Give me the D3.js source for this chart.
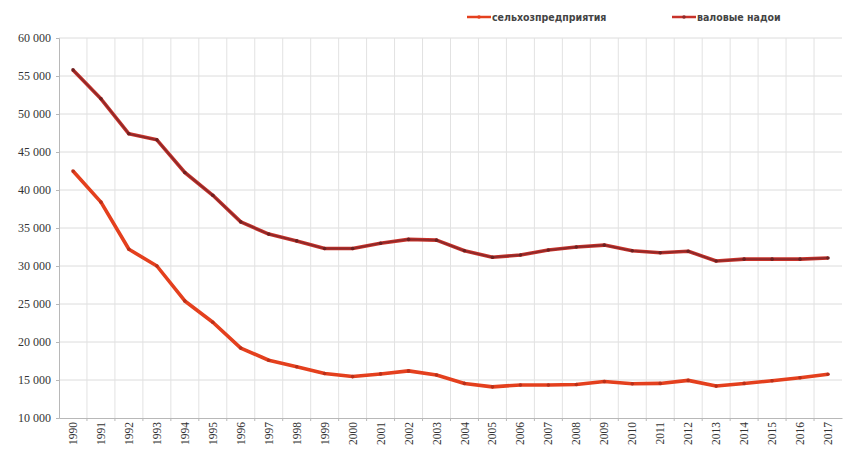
<!DOCTYPE html>
<html>
<head>
<meta charset="utf-8">
<script src="https://cdn.jsdelivr.net/npm/d3@7"></script>
<style>
  body { margin: 0; background: #fff; }
</style>
</head>
<body>
<script>
const width = 844;
const height = 453;

// years on the category axis
const years = d3.range(1990, 2018).map(String);

// валовые надои (upper line)
const nadoi = [55800, 52000, 47400, 46600, 42300, 39300, 35800, 34200, 33300, 32300,
    32300, 33000, 33500, 33400, 32000, 31150, 31450, 32100, 32500, 32750,
    32000, 31750, 31950, 30650, 30900, 30900, 30900, 31050];

// сельхозпредприятия (lower line)
const selhoz = [42500, 38400, 32200, 30000, 25400, 22600, 19200, 17600, 16750, 15850,
    15450, 15800, 16200, 15650, 14550, 14100, 14350, 14350, 14400, 14800,
    14500, 14550, 14950, 14200, 14550, 14900, 15300, 15750];

const yTicks = [10000, 15000, 20000, 25000, 30000, 35000, 40000, 45000, 50000, 55000, 60000];

const seriesList = [
    { name: "сельхозпредприятия", values: selhoz, color: "#e4401e", core: "#e4401e", dot: "#b8301a" },
    { name: "валовые надои", values: nadoi, color: "#c8322a", core: "#8e2a2a", dot: "#6e2020" }
];

const serif = "'Liberation Serif', 'DejaVu Serif', serif";
const margin = { top: 38, right: 2, bottom: 35, left: 59 };

const svg = d3.select("body").append("svg")
    .attr("width", width)
    .attr("height", height);

const x = d3.scaleBand()
    .domain(years)
    .range([margin.left, width - margin.right]);

const y = d3.scaleLinear()
    .domain([10000, 60000])
    .range([height - margin.bottom, margin.top]);

const fmt = v => d3.format(",")(v).replace(/,/g, " ");

// horizontal grid
svg.append("g")
    .attr("stroke", "#dcdcdc")
    .selectAll("line")
    .data(yTicks.slice(1))
    .join("line")
    .attr("x1", margin.left)
    .attr("x2", width - margin.right)
    .attr("y1", d => y(d))
    .attr("y2", d => y(d));

// vertical grid at category boundaries
svg.append("g")
    .attr("stroke", "#e2e2e2")
    .selectAll("line")
    .data(years.slice(1))
    .join("line")
    .attr("x1", d => x(d))
    .attr("x2", d => x(d))
    .attr("y1", y(60000))
    .attr("y2", y(10000));

// y axis
const yAxis = svg.append("g")
    .attr("transform", `translate(${margin.left},0)`)
    .call(d3.axisLeft(y).tickValues(yTicks).tickFormat(fmt).tickSize(3));
yAxis.select(".domain").attr("stroke", "#b8b8b8");
yAxis.selectAll(".tick line").attr("stroke", "#b8b8b8");
yAxis.selectAll("text")
    .style("font-family", serif)
    .style("font-size", "12px")
    .attr("fill", "#333")
    .attr("x", -8);

// x axis
const xAxis = svg.append("g")
    .attr("transform", `translate(0,${y(10000)})`)
    .call(d3.axisBottom(x).tickSize(0));
xAxis.select(".domain").attr("stroke", "#b8b8b8");
xAxis.selectAll("text")
    .style("font-family", serif)
    .style("font-size", "11.5px")
    .attr("fill", "#333")
    .attr("transform", "rotate(-90)")
    .attr("text-anchor", "end")
    .attr("dy", "0.35em")
    .attr("x", -4)
    .attr("y", 0);
svg.append("g")
    .attr("stroke", "#b8b8b8")
    .selectAll("line")
    .data(years.slice(1))
    .join("line")
    .attr("x1", d => x(d))
    .attr("x2", d => x(d))
    .attr("y1", y(10000))
    .attr("y2", y(10000) + 3);

const line = d3.line()
    .x((d, i) => x(years[i]) + x.bandwidth() / 2)
    .y(d => y(d));

seriesList.forEach(s => {
    const g = svg.append("g");
    g.append("path")
        .datum(s.values)
        .attr("fill", "none")
        .attr("stroke", s.color)
        .attr("stroke-width", 3.6)
        .attr("stroke-linejoin", "round")
        .attr("d", line);
    g.append("path")
        .datum(s.values)
        .attr("fill", "none")
        .attr("stroke", s.core)
        .attr("stroke-width", 1.8)
        .attr("stroke-linejoin", "round")
        .attr("d", line);
    g.selectAll("circle")
        .data(s.values)
        .join("circle")
        .attr("cx", (d, i) => x(years[i]) + x.bandwidth() / 2)
        .attr("cy", d => y(d))
        .attr("r", 1.8)
        .attr("fill", s.dot);
});

// legend
const legendPos = [467, 672];
const legend = svg.append("g")
    .selectAll("g")
    .data(seriesList)
    .join("g")
    .attr("transform", (d, i) => `translate(${legendPos[i]},17)`);
legend.append("line")
    .attr("x1", 0)
    .attr("x2", 24)
    .attr("stroke", d => d.color)
    .attr("stroke-width", 2.5);
legend.append("circle")
    .attr("cx", 12)
    .attr("r", 1.8)
    .attr("fill", d => d.core);
legend.append("text")
    .attr("x", 25)
    .attr("dy", "0.35em")
    .style("font-family", "'DejaVu Sans Condensed', 'Liberation Sans Narrow', Arial, sans-serif")
    .style("font-size", "10.5px")
    .style("font-weight", "bold")
    .attr("fill", "#444")
    .text(d => d.name);
</script>
</body>
</html>
